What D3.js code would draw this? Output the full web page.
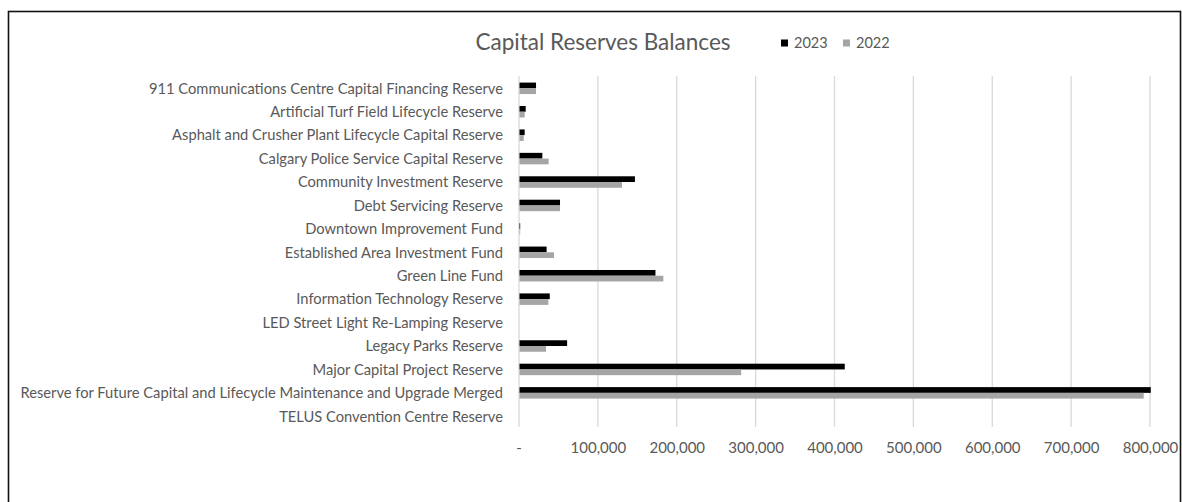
<!DOCTYPE html>
<html>
<head>
<meta charset="utf-8">
<script src="https://cdn.jsdelivr.net/npm/d3@7"></script>
<style>
  html, body { margin: 0; padding: 0; background: #fff; }
  svg { display: block; }
  text { font-family: Lato, "Open Sans", sans-serif; fill: #595959; }
</style>
</head>
<body>
<svg id="chart" width="1182" height="502"></svg>
<script>
// Reserve names, top to bottom
const categories = [
  "911 Communications Centre Capital Financing Reserve",
  "Artificial Turf Field Lifecycle Reserve",
  "Asphalt and Crusher Plant Lifecycle Capital Reserve",
  "Calgary Police Service Capital Reserve",
  "Community Investment Reserve",
  "Debt Servicing Reserve",
  "Downtown Improvement Fund",
  "Established Area Investment Fund",
  "Green Line Fund",
  "Information Technology Reserve",
  "LED Street Light Re-Lamping Reserve",
  "Legacy Parks Reserve",
  "Major Capital Project Reserve",
  "Reserve for Future Capital and Lifecycle Maintenance and Upgrade Merged",
  "TELUS Convention Centre Reserve"
];

// Balances (thousands of dollars)
const values2023 = [21600, 8500, 7200, 29600, 147000, 52000, 1500, 35000, 173000, 39000, 0, 61000, 413000, 801000, 0];
const values2022 = [21500, 7200, 6000, 37600, 130500, 52000, 1500, 44400, 183000, 37200, 0, 34300, 281700, 792000, 0];

const seriesNames = ["2023", "2022"];
const seriesColors = ["#000000", "#a5a5a5"];
const tickValues = [0, 100000, 200000, 300000, 400000, 500000, 600000, 700000, 800000];

const svg = d3.select("#chart");

// chart frame
svg.append("rect")
  .attr("x", 8.5).attr("y", 11.5)
  .attr("width", 1172).attr("height", 500)
  .attr("fill", "none").attr("stroke", "#111").attr("stroke-width", 1.6);

const x = d3.scaleLinear().domain([0, 800000]).range([519, 1150]);
const y = d3.scaleBand().domain(categories).range([76.6, 428]).paddingInner(0.51).paddingOuter(0.255);
const ySub = d3.scaleBand().domain(seriesNames).range([0, y.bandwidth()]);

// gridlines
svg.append("g")
  .selectAll("line")
  .data(tickValues)
  .join("line")
  .attr("x1", d => x(d)).attr("x2", d => x(d))
  .attr("y1", 76).attr("y2", 427)
  .attr("stroke", "#d9d9d9").attr("stroke-width", 1.3);

// x tick labels
const fmt = d3.format(",");
svg.append("g")
  .selectAll("text")
  .data(tickValues)
  .join("text")
  .attr("x", d => x(d) + (d === 0 ? 0 : 0.5))
  .attr("y", 453)
  .attr("text-anchor", "middle")
  .style("font-size", "15px")
  .text(d => d === 0 ? "-" : fmt(d));

// category labels
svg.append("g")
  .selectAll("text")
  .data(categories)
  .join("text")
  .attr("x", 503)
  .attr("y", d => y(d) + y.bandwidth() / 2)
  .attr("dy", "0.36em")
  .attr("text-anchor", "end")
  .style("font-size", "14.7px")
  .text(d => d);

// bars
const series = [values2023, values2022];
series.forEach((vals, si) => {
  svg.append("g")
    .selectAll("rect")
    .data(categories.map((c, i) => ({ c, v: vals[i] })))
    .join("rect")
    .attr("x", x(0) + 0.5)
    .attr("y", d => y(d.c) + ySub(seriesNames[si]))
    .attr("width", d => Math.max(0, x(d.v) - x(0) - 0.5))
    .attr("height", ySub.bandwidth())
    .attr("fill", seriesColors[si]);
});

// title
svg.append("text")
  .attr("x", 603).attr("y", 50)
  .attr("text-anchor", "middle")
  .style("font-size", "22.5px")
  .text("Capital Reserves Balances");

// legend
const legend = svg.append("g");
const legendX = [781, 843];
seriesNames.forEach((name, i) => {
  legend.append("rect")
    .attr("x", legendX[i]).attr("y", 39.5)
    .attr("width", 7).attr("height", 7)
    .attr("fill", seriesColors[i]);
  legend.append("text")
    .attr("x", legendX[i] + 13).attr("y", 48)
    .style("font-size", "14.5px")
    .text(name);
});
</script>
</body>
</html>
